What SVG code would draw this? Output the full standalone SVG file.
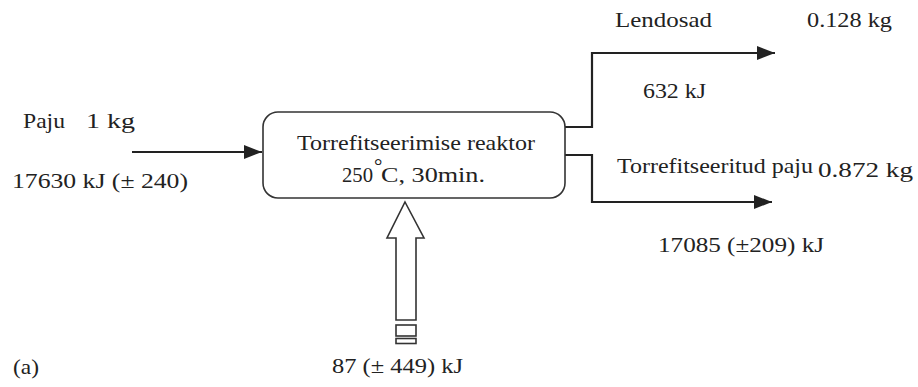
<svg xmlns="http://www.w3.org/2000/svg" width="918" height="387" viewBox="0 0 918 387" font-family="Liberation Serif, Times New Roman, serif">
<style>
text{font-size:21px;fill:#222}
.ln{fill:none;stroke:#222;stroke-width:2.2}
.bx{fill:#fff;stroke:#333;stroke-width:1.6}
</style>
<defs>
<marker id="ah" markerUnits="userSpaceOnUse" markerWidth="18" markerHeight="14" refX="18" refY="7" orient="auto">
<path d="M0,0 L18,7 L0,14 Z" fill="#222"/>
</marker>
</defs>
<rect width="918" height="387" fill="#fff"/>
<g id="connectors">
<path class="ln" d="M132,152 H262" marker-end="url(#ah)"/>
<path class="ln" d="M565,127 H592 V53 H775" marker-end="url(#ah)"/>
<path class="ln" d="M565,155 H592 V202 H772" marker-end="url(#ah)"/>
</g>
<g id="reactor">
<rect class="bx" x="263" y="112" width="302" height="86" rx="15"/>
<text x="297" y="150" textLength="238" lengthAdjust="spacingAndGlyphs">Torrefitseerimise reaktor</text>
<text x="342" y="182" textLength="31" lengthAdjust="spacingAndGlyphs">250</text>
<text x="374" y="173" font-size="14">°</text>
<text x="381" y="182" textLength="104" lengthAdjust="spacingAndGlyphs">C, 30min.</text>
</g>
<g id="heat-input">
<path class="bx" d="M405,202 L424,238 L416,238 L416,320 L396,320 L396,238 L387,238 Z"/>
<rect class="bx" x="396" y="325" width="20" height="11"/>
<rect class="bx" x="396" y="338.5" width="20" height="5"/>
<text x="332" y="373" textLength="131" lengthAdjust="spacingAndGlyphs">87 (± 449) kJ</text>
</g>
<g id="input">
<text x="23" y="128" textLength="42" lengthAdjust="spacingAndGlyphs">Paju</text>
<text x="86" y="128" textLength="49" lengthAdjust="spacingAndGlyphs">1 kg</text>
<text x="12" y="188" textLength="176" lengthAdjust="spacingAndGlyphs">17630 kJ (± 240)</text>
</g>
<g id="volatiles">
<text x="615" y="27" textLength="97" lengthAdjust="spacingAndGlyphs">Lendosad</text>
<text x="807" y="27" textLength="85" lengthAdjust="spacingAndGlyphs">0.128 kg</text>
<text x="643" y="98" textLength="63" lengthAdjust="spacingAndGlyphs">632 kJ</text>
</g>
<g id="torrefied">
<text x="617" y="173" textLength="196" lengthAdjust="spacingAndGlyphs">Torrefitseeritud paju</text>
<text x="818" y="177" textLength="95" lengthAdjust="spacingAndGlyphs">0.872 kg</text>
<text x="658" y="252" textLength="166" lengthAdjust="spacingAndGlyphs">17085  (±209) kJ</text>
</g>
<text x="13" y="374" textLength="26" lengthAdjust="spacingAndGlyphs">(a)</text>
</svg>
